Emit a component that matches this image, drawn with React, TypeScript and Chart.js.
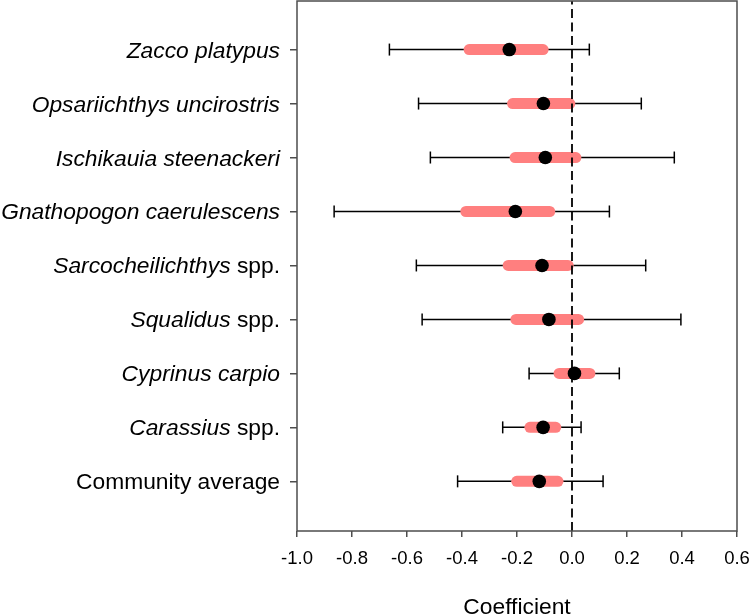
import { useEffect, useRef } from 'react';
import { Chart, registerables } from 'chart.js';

Chart.register(...registerables);

// Species rows, top to bottom
const species = [
  'Zacco platypus',
  'Opsariichthys uncirostris',
  'Ischikauia steenackeri',
  'Gnathopogon caerulescens',
  'Sarcocheilichthys spp.',
  'Squalidus spp.',
  'Cyprinus carpio',
  'Carassius spp.',
  'Community average',
];
// Leading part of each label that is set in italics (scientific names)
const italicPart = [
  'Zacco platypus',
  'Opsariichthys uncirostris',
  'Ischikauia steenackeri',
  'Gnathopogon caerulescens',
  'Sarcocheilichthys',
  'Squalidus',
  'Cyprinus carpio',
  'Carassius',
  '',
];

// Posterior mean coefficient
const estimate = [-0.228, -0.104, -0.097, -0.206, -0.109, -0.084, 0.009, -0.105, -0.119];
// Outer interval (thin whiskers)
const outerLow = [-0.664, -0.558, -0.515, -0.865, -0.566, -0.545, -0.156, -0.252, -0.416];
const outerHigh = [0.063, 0.252, 0.372, 0.136, 0.268, 0.396, 0.172, 0.033, 0.113];
// Inner interval (thick pink band)
const innerLow = [-0.374, -0.216, -0.207, -0.386, -0.232, -0.204, -0.047, -0.153, -0.201];
const innerHigh = [-0.105, -0.008, 0.014, -0.081, -0.014, 0.024, 0.065, -0.059, -0.051];

const xTicks = [-1.0, -0.8, -0.6, -0.4, -0.2, 0.0, 0.2, 0.4, 0.6];
const xTickLabels = ['-1.0', '-0.8', '-0.6', '-0.4', '-0.2', '0.0', '0.2', '0.4', '0.6'];
const xTitle = 'Coefficient';

const FONT = "'Liberation Sans', Arial, Helvetica, sans-serif";
const AXIS_COLOR = '#4d4d4d';
const PINK = '#ff7f7f';
const LABEL_SIZE = 22.8;

const rowPos = species.map((_, i) => species.length - i);
const Y_MIN = 0.08;
const Y_MAX = 9.9;

const framePlugin = {
  id: 'frameAndLabels',
  afterDraw(chart: any) {
    const { ctx, chartArea, scales } = chart;
    const yScale = scales.y;
    ctx.save();
    ctx.strokeStyle = AXIS_COLOR;
    ctx.lineWidth = 1.5;
    ctx.strokeRect(
      chartArea.left,
      chartArea.top,
      chartArea.right - chartArea.left,
      chartArea.bottom - chartArea.top
    );

    ctx.fillStyle = '#000';
    ctx.textBaseline = 'alphabetic';
    ctx.textAlign = 'left';
    species.forEach((name, i) => {
      const it = italicPart[i];
      const rest = name.slice(it.length);
      const py = yScale.getPixelForValue(rowPos[i]) + 8;
      let x = chartArea.left - 17;
      if (rest) {
        ctx.font = `${LABEL_SIZE}px ${FONT}`;
        const w = ctx.measureText(rest).width;
        ctx.fillText(rest, x - w, py);
        x -= w;
      }
      if (it) {
        ctx.font = `italic ${LABEL_SIZE}px ${FONT}`;
        const w = ctx.measureText(it).width;
        ctx.fillText(it, x - w, py);
      }
    });

    ctx.font = `${LABEL_SIZE}px ${FONT}`;
    ctx.textAlign = 'center';
    ctx.fillText(xTitle, (chartArea.left + chartArea.right) / 2, 614);
    ctx.restore();
  },
};

export default function App() {
  const canvasRef = useRef<HTMLCanvasElement | null>(null);

  useEffect(() => {
    if (!canvasRef.current) return;
    Chart.defaults.font.family = FONT;

    const whiskers = species.map((_, i) => ({
      data: [
        { x: outerLow[i], y: rowPos[i] },
        { x: outerHigh[i], y: rowPos[i] },
      ],
      showLine: true,
      borderColor: '#000',
      borderWidth: 1.5,
      pointStyle: 'line',
      pointRotation: 90,
      pointRadius: 6,
      pointBorderColor: '#000',
      pointBorderWidth: 1.5,
      order: 4,
    }));

    const bands = species.map((_, i) => ({
      data: [
        { x: innerLow[i], y: rowPos[i] },
        { x: innerHigh[i], y: rowPos[i] },
      ],
      showLine: true,
      borderColor: PINK,
      borderWidth: 11,
      borderCapStyle: 'round',
      pointRadius: 0,
      order: 3,
    }));

    const zeroLine = {
      data: [
        { x: 0, y: Y_MIN },
        { x: 0, y: Y_MAX },
      ],
      showLine: true,
      borderColor: '#000',
      borderWidth: 1.8,
      borderDash: [9, 4.5],
      pointRadius: 0,
      order: 2,
    };

    const points = {
      data: estimate.map((v, i) => ({ x: v, y: rowPos[i] })),
      showLine: false,
      pointStyle: 'circle',
      pointRadius: 6.8,
      pointBackgroundColor: '#000',
      pointBorderColor: '#000',
      pointBorderWidth: 0,
      order: 1,
    };

    const chart = new Chart(canvasRef.current, {
      type: 'scatter',
      data: { datasets: [...whiskers, ...bands, zeroLine, points] as any },
      options: {
        animation: false,
        responsive: true,
        maintainAspectRatio: false,
        events: [],
        layout: { autoPadding: false, padding: { top: 1, right: 13, bottom: 0, left: 0 } },
        plugins: {
          legend: { display: false },
          tooltip: { enabled: false },
        },
        scales: {
          x: {
            type: 'linear',
            min: -1,
            max: 0.6,
            afterBuildTicks: (s: any) => {
              s.ticks = xTicks.map((v) => ({ value: v }));
            },
            afterFit: (s: any) => {
              s.height = 84;
              s.paddingLeft = 0;
              s.paddingRight = 0;
            },
            ticks: {
              callback: (_v: any, idx: number) => xTickLabels[idx],
              color: '#000',
              font: { size: 18.5, family: FONT },
              padding: 11,
              maxRotation: 0,
              autoSkip: false,
            },
            grid: {
              drawOnChartArea: false,
              drawTicks: true,
              tickLength: 6,
              color: AXIS_COLOR,
              lineWidth: 1.5,
            },
            border: { display: false },
          },
          y: {
            type: 'linear',
            min: Y_MIN,
            max: Y_MAX,
            afterBuildTicks: (s: any) => {
              s.ticks = rowPos.map((v) => ({ value: v }));
            },
            afterFit: (s: any) => {
              s.width = 297;
              s.paddingTop = 0;
              s.paddingBottom = 0;
            },
            ticks: { display: false },
            grid: {
              drawOnChartArea: false,
              drawTicks: true,
              tickLength: 7,
              color: AXIS_COLOR,
              lineWidth: 1.5,
            },
            border: { display: false },
          },
        },
      },
      plugins: [framePlugin],
    });

    return () => chart.destroy();
  }, []);

  return (
    <div style={{ position: 'fixed', left: 0, top: 0, width: 750, height: 615, background: '#fff' }}>
      <canvas ref={canvasRef} />
    </div>
  );
}
